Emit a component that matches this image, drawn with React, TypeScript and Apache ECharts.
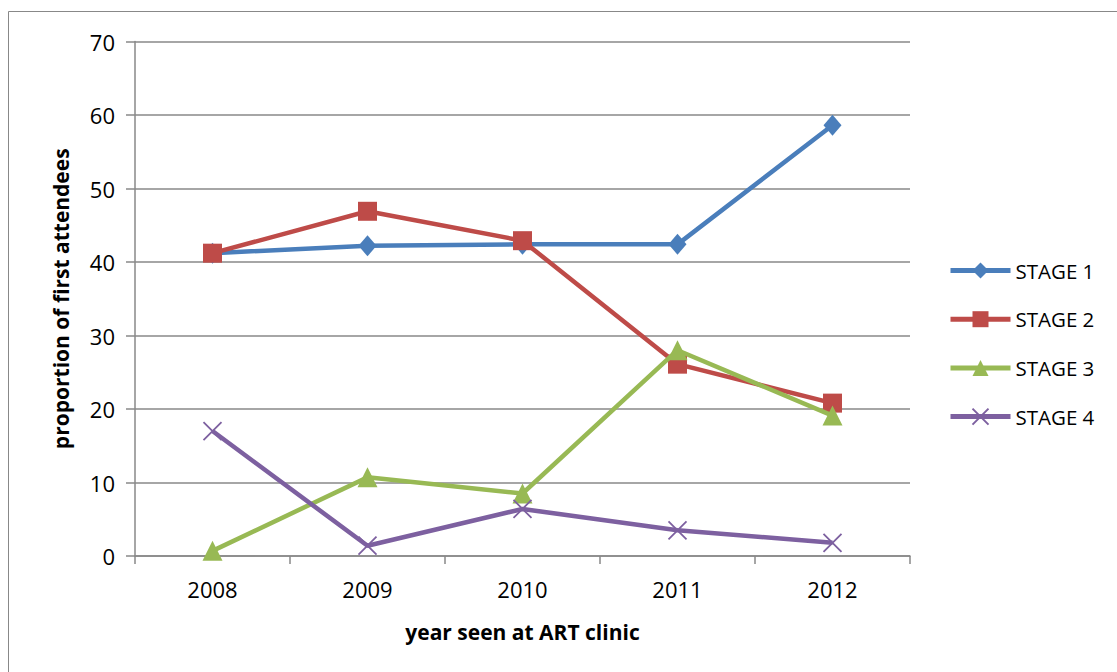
import React, { useEffect, useRef } from "react";
import * as echarts from "echarts";

const years = ["2008", "2009", "2010", "2011", "2012"];
const stage1 = [41.2, 42.2, 42.4, 42.4, 58.6];
const stage2 = [41.2, 46.9, 42.9, 26.1, 20.8];
const stage3 = [0.7, 10.7, 8.5, 28.0, 19.1];
const stage4 = [17.0, 1.4, 6.4, 3.5, 1.8];
const seriesNames = ["STAGE 1", "STAGE 2", "STAGE 3", "STAGE 4"];
const colors = ["#4A7EBB", "#BE4B48", "#98B954", "#7D60A0"];

const FONT = "'Open Sans', 'Liberation Sans', sans-serif";

export default function App() {
  const ref = useRef<HTMLDivElement>(null);
  useEffect(() => {
    if (!ref.current) return;
    const chart = echarts.init(ref.current, null, { renderer: "svg" });
    const datas = [stage1, stage2, stage3, stage4];
    const symbols = ["diamond", "rect", "triangle", "path://M0,0L10,10M10,0L0,10"];
    const sizes = [[18, 21], 19, 20, 18];
    chart.setOption({
      animation: false,
      backgroundColor: "#fff",
      graphic: [
        {
          type: "rect",
          shape: { x: 8.5, y: 11.5, width: 1200, height: 800 },
          style: { fill: "none", stroke: "#888", lineWidth: 1 },
          silent: true,
        },
      ],
      grid: { left: 135, right: 207, top: 41.5, bottom: 116 },
      legend: {
        orient: "vertical",
        left: 943,
        top: 255,
        itemWidth: 60,
        itemHeight: 20,
        itemGap: 27.7,
        lineStyle: { width: 5 },
        textStyle: { fontFamily: FONT, fontSize: 20.5, color: "#000" },
        data: seriesNames,
      },
      xAxis: {
        type: "category",
        data: years,
        boundaryGap: true,
        name: "year seen at ART clinic",
        nameLocation: "middle",
        nameGap: 65,
        nameTextStyle: { fontFamily: FONT, fontSize: 21, fontWeight: "bold", color: "#000" },
        axisLine: { lineStyle: { color: "#888", width: 1.5 } },
        axisTick: { show: true, length: 8, lineStyle: { color: "#888", width: 1.5 } },
        axisLabel: { fontFamily: FONT, fontSize: 22, color: "#000", margin: 22 },
      },
      yAxis: {
        type: "value",
        min: 0,
        max: 70,
        interval: 10,
        name: "proportion of first attendees",
        nameLocation: "middle",
        nameGap: 64,
        nameTextStyle: { fontFamily: FONT, fontSize: 21, fontWeight: "bold", color: "#000" },
        axisLine: { show: true, lineStyle: { color: "#888", width: 1.5 } },
        axisTick: { show: true, length: 9, lineStyle: { color: "#888", width: 1.5 } },
        splitLine: { lineStyle: { color: "#888", width: 1.5 } },
        axisLabel: { fontFamily: FONT, fontSize: 22, color: "#000", margin: 20 },
      },
      series: datas.map((d, i) => ({
        name: seriesNames[i],
        type: "line",
        data: d,
        symbol: symbols[i],
        symbolSize: sizes[i],
        lineStyle: { color: colors[i], width: 4.5 },
        itemStyle:
          i === 3
            ? { color: colors[i], borderColor: colors[i], borderWidth: 1.8 }
            : { color: colors[i], borderWidth: 0 },
        z: 2 + (i === 1 ? 0 : i),
      })),
    });
    return () => chart.dispose();
  }, []);
  return (
    <div
      ref={ref}
      style={{ position: "absolute", left: 0, top: 0, width: 1117, height: 672 }}
    />
  );
}
